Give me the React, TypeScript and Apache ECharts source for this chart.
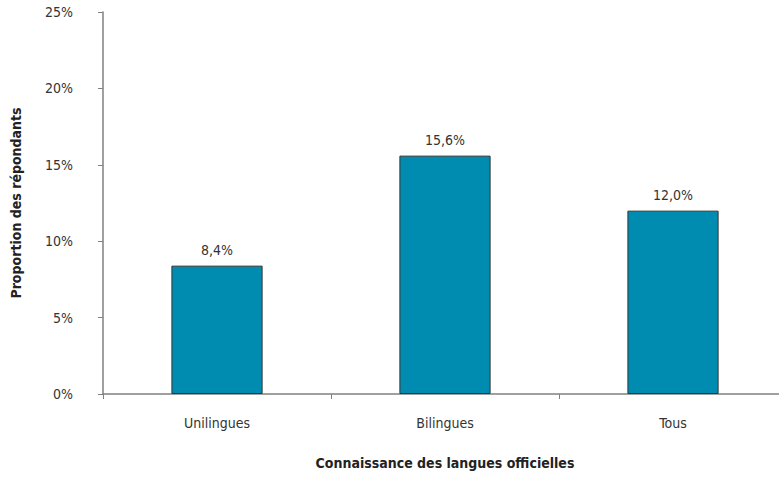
import React, { useEffect, useRef } from "react";
import * as echarts from "echarts";

const categories = ["Unilingues", "Bilingues", "Tous"];
const values = [8.4, 15.6, 12.0];
const yTicks = { min: 0, max: 25, interval: 5 };

const FONT = "'DejaVu Sans Condensed', 'Liberation Sans Narrow', 'DejaVu Sans', sans-serif";

export default function App() {
  const ref = useRef<HTMLDivElement>(null);
  useEffect(() => {
    if (!ref.current) return;
    const chart = echarts.init(ref.current, null, { renderer: "svg" });
    chart.setOption({
      animation: false,
      textStyle: { fontFamily: FONT },
      grid: { left: 103, right: -8, top: 12, bottom: 83, outerBoundsMode: "none", containLabel: false },
      xAxis: {
        type: "category",
        data: categories,
        boundaryGap: true,
        name: "Connaissance des langues officielles",
        nameLocation: "middle",
        nameGap: 62,
        nameTextStyle: { fontFamily: FONT, fontSize: 14, fontWeight: "bold", color: "#222" },
        axisLine: { lineStyle: { color: "#808080", width: 1.5 } },
        axisTick: { show: true, length: 5, lineStyle: { color: "#808080" } },
        axisLabel: { fontFamily: FONT, fontSize: 14, color: "#333", margin: 22 },
      },
      yAxis: {
        type: "value",
        min: yTicks.min,
        max: yTicks.max,
        interval: yTicks.interval,
        name: "Proportion des répondants",
        nameLocation: "middle",
        nameGap: 80,
        nameRotate: 90,
        nameTextStyle: { fontFamily: FONT, fontSize: 14, fontWeight: "bold", color: "#222" },
        axisLine: { show: true, lineStyle: { color: "#808080", width: 1.5 } },
        axisTick: { show: true, length: 5, lineStyle: { color: "#808080" } },
        splitLine: { show: false },
        axisLabel: { fontFamily: FONT, fontSize: 14, color: "#333", margin: 30, formatter: "{value}%" },
      },
      series: [
        {
          type: "bar",
          data: values,
          barWidth: "40%",
          itemStyle: { color: "#008CB0", borderColor: "#333", borderWidth: 1 },
          label: {
            show: true,
            position: "top",
            distance: 9,
            fontFamily: FONT,
            fontSize: 14,
            color: "#333",
            formatter: (p: any) => p.value.toFixed(1).replace(".", ",") + "%",
          },
        },
      ],
    });
    return () => chart.dispose();
  }, []);
  return <div ref={ref} style={{ width: 779, height: 477, position: "absolute", left: 0, top: 0 }} />;
}
